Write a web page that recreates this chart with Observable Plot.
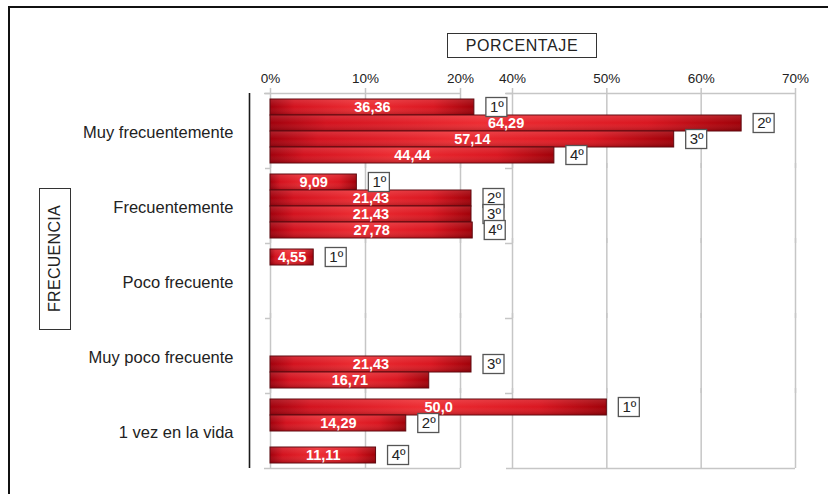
<!DOCTYPE html>
<html>
<head>
<meta charset="utf-8">
<script src="https://cdn.jsdelivr.net/npm/d3@7"></script>
<script src="https://cdn.jsdelivr.net/npm/@observablehq/plot@0.6"></script>
<style>
  html, body { margin: 0; padding: 0; background: #fff; }
  #wrap { position: relative; width: 828px; height: 494px; overflow: hidden; font-family: "Liberation Sans", Arial, sans-serif; background: #fff; }
  #chart { position: absolute; left: 0; top: 0; }
  #frame { position: absolute; left: 8px; top: 6px; width: 830px; height: 500px; border-top: 2px solid #111; border-left: 2px solid #111; pointer-events: none; }
  #xtitle { position: absolute; left: 447px; top: 33px; width: 148px; height: 23px; border: 1.5px solid #333; background: #fff;
            display: flex; align-items: center; justify-content: center; font-size: 16px; letter-spacing: 0.6px; color: #222; }
  #ytitle { position: absolute; left: 39px; top: 188px; width: 30px; height: 140px; border: 1.5px solid #333; background: #fff;
            display: flex; align-items: center; justify-content: center; color: #222; }
  #ytitle span { writing-mode: vertical-rl; transform: rotate(180deg); font-size: 16px; letter-spacing: 0.3px; }
</style>
</head>
<body>
<div id="wrap">
  <div id="chart"></div>
  <div id="frame"></div>
  <div id="xtitle">PORCENTAJE</div>
  <div id="ytitle"><span>FRECUENCIA</span></div>
</div>
<script>
// ---- data ----
const categories = ["Muy frecuentemente", "Frecuentemente", "Poco frecuente", "Muy poco frecuente", "1 vez en la vida"];
const ranks = ["1º", "2º", "3º", "4º"];

const barCategory = [
  "Muy frecuentemente", "Muy frecuentemente", "Muy frecuentemente", "Muy frecuentemente",
  "Frecuentemente", "Frecuentemente", "Frecuentemente", "Frecuentemente",
  "Poco frecuente",
  "Muy poco frecuente", "Muy poco frecuente",
  "1 vez en la vida", "1 vez en la vida", "1 vez en la vida"
];
const barRank = ["1º", "2º", "3º", "4º", "1º", "2º", "3º", "4º", "1º", "3º", "4º", "1º", "2º", "4º"];
const barValue = [36.36, 64.29, 57.14, 44.44, 9.09, 21.43, 21.43, 27.78, 4.55, 21.43, 16.71, 50.0, 14.29, 11.11];
const barLabel = ["36,36", "64,29", "57,14", "44,44", "9,09", "21,43", "21,43", "27,78", "4,55", "21,43", "16,71", "50,0", "14,29", "11,11"];
const barOrdinal = ["1º", "2º", "3º", "4º", "1º", "2º", "3º", "4º", "1º", "3º", "", "1º", "2º", "4º"];

const xTicks = [0, 10, 20, 40, 50, 60, 70];
const xTickLabels = ["0%", "10%", "20%", "40%", "50%", "60%", "70%"];
const axisSegments = [{from: 0, to: 20}, {from: 40, to: 70}];

// ---- broken (piecewise) x scale, as in the reference ----
const xScaleOptions = {type: "linear", domain: [0, 20, 21.4, 37, 40, 70], range: [270, 460, 471, 474, 512, 795]};
const xs = Plot.scale({x: xScaleOptions});

const bars = barValue.map((v, i) => ({
  cat: barCategory[i], rank: barRank[i], value: v, label: barLabel[i], ord: barOrdinal[i],
  mid: xs.invert((xs.apply(0) + xs.apply(v)) / 2)
}));
const boxed = bars.filter(d => d.ord !== "");

const gridStyle = {stroke: "#c6c6c6", strokeOpacity: 1, strokeWidth: 1.5};

const chart = Plot.plot({
  width: 828,
  height: 494,
  marginTop: 93,
  marginBottom: 26,
  marginLeft: 270,
  marginRight: 33,
  style: {fontFamily: "Liberation Sans, Arial, sans-serif", color: "#222", background: "transparent", overflow: "visible"},
  x: xScaleOptions,
  y: {domain: ranks, padding: 0, insetTop: 6, insetBottom: 5, axis: null},
  fy: {domain: categories, padding: 0},
  marks: [
    Plot.gridX({ticks: xTicks, ...gridStyle, insetTop: -5}),
    // top and bottom lines of the plotting area
    Plot.ruleY(axisSegments, {fy: () => categories[0], y: () => ranks[0], x1: "from", x2: "to", dy: -14, insetLeft: -6, ...gridStyle}),
    Plot.ruleY(axisSegments, {fy: () => categories[categories.length - 1], y: () => ranks[3], x1: "from", x2: "to", dy: 13, insetLeft: -6, ...gridStyle}),
    // small category separators
    Plot.ruleY(categories, {fy: d => d, y: () => ranks[0], x1: () => 0, x2: () => 0, dy: -14, insetLeft: -5, ...gridStyle}),
    Plot.ruleY(categories, {fy: d => d, y: () => ranks[0], x1: () => 40, x2: () => 40, dy: -14, insetLeft: -7, ...gridStyle}),
    // black vertical line left of the bars
    Plot.ruleX([0], {dx: -21, stroke: "#1a1a1a", strokeWidth: 1.6}),
    // bars
    Plot.barX(bars, {x: "value", y: "rank", fy: "cat", fill: "url(#barGrad)", stroke: "#5e0a10", strokeWidth: 1}),
    Plot.barX(bars, {x: "value", y: "rank", fy: "cat", fill: "url(#barShade)", insetTop: 0.5, insetBottom: 0.5, insetLeft: 0.5, insetRight: 0.5}),
    Plot.text(bars, {x: "mid", y: "rank", fy: "cat", text: "label", fill: "#fff", fontWeight: "bold", fontSize: 14.5, dy: 0}),
    // ordinal boxes
    Plot.barX(boxed, {x1: "value", x2: "value", y: "rank", fy: "cat", insetLeft: 12, insetRight: -33, insetTop: -1.5, insetBottom: -1.5, fill: "#fff", stroke: "#555", strokeWidth: 1.3}),
    Plot.text(boxed, {x: "value", y: "rank", fy: "cat", text: "ord", dx: 22.5, fontSize: 15, fill: "#222"}),
    Plot.axisX({anchor: "top", ticks: xTicks, tickFormat: d => xTickLabels[xTicks.indexOf(d)], tickSize: 0, tickPadding: 11, fontSize: 13.5, label: null, color: "#222"}),
    Plot.axisFy({anchor: "left", tickSize: 0, tickPadding: 37, fontSize: 16.5, label: null, dy: 2, color: "#222"})
  ]
});

const ns = "http://www.w3.org/2000/svg";
const defs = document.createElementNS(ns, "defs");
defs.innerHTML = `
  <linearGradient id="barGrad" x1="0" x2="1" y1="0" y2="0">
    <stop offset="0" stop-color="#a0000c"/>
    <stop offset="0.12" stop-color="#d3121e"/>
    <stop offset="0.45" stop-color="#ee2c32"/>
    <stop offset="0.8" stop-color="#da1620"/>
    <stop offset="1" stop-color="#a00008"/>
  </linearGradient>
  <linearGradient id="barShade" x1="0" x2="0" y1="0" y2="1">
    <stop offset="0" stop-color="#ffffff" stop-opacity="0.12"/>
    <stop offset="0.5" stop-color="#ffffff" stop-opacity="0"/>
    <stop offset="1" stop-color="#000000" stop-opacity="0.18"/>
  </linearGradient>`;
chart.insertBefore(defs, chart.firstChild);
document.getElementById("chart").appendChild(chart);
</script>
</body>
</html>
